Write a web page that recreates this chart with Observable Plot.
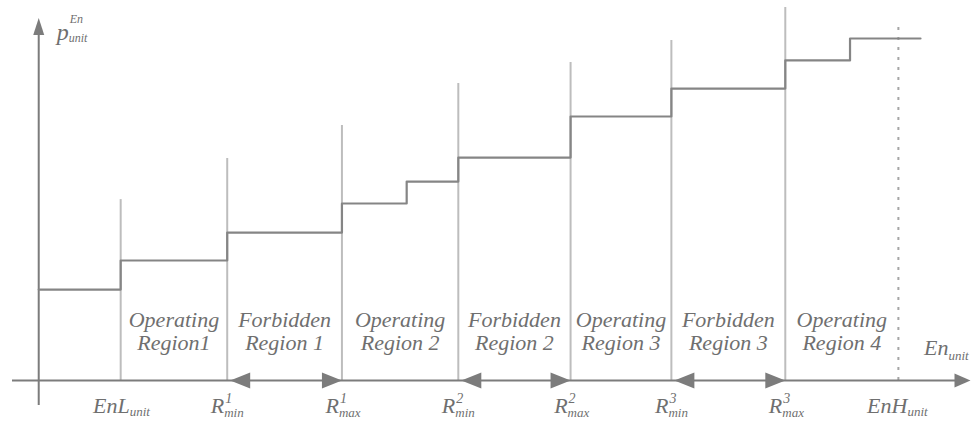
<!DOCTYPE html>
<html>
<head>
<meta charset="utf-8">
<script src="https://cdn.jsdelivr.net/npm/d3@7"></script>
<script src="https://cdn.jsdelivr.net/npm/@observablehq/plot@0.6"></script>
<style>
  html, body { margin: 0; padding: 0; background: #fff; }
  #chart svg { display: block; }
</style>
</head>
<body>
<div id="chart"></div>
<script>
// Region boundaries on the En axis: EnL, R1min, R1max, R2min, R2max, R3min, R3max, EnH
const boundX = [10, 23, 37, 51.2, 64.9, 77.2, 91.1, 104.9];
const boundTop = [60.3, 74, 85, 99, 106, 113.3, 124.3, 118.3];
const boundDashed = [false, false, false, false, false, false, false, true];
// Step curve of p_unit^En
const stepX = [0, 10, 23, 37, 44.9, 51.2, 64.9, 77.2, 91.1, 99, 107.6];
const stepY = [30.3, 40, 49.3, 59, 66.3, 74.3, 88, 97.3, 106.7, 114, 114];
// Region labels
const regionLabels = ["Operating\nRegion1", "Forbidden\nRegion 1", "Operating\nRegion 2", "Forbidden\nRegion 2", "Operating\nRegion 3", "Forbidden\nRegion 3", "Operating\nRegion 4"];
// Tick labels
const tickBase = ["EnL", "R", "R", "R", "R", "R", "R", "EnH"];
const tickSub = ["unit", "min", "max", "min", "max", "min", "max", "unit"];
const tickSup = ["", "1", "1", "2", "2", "3", "3", ""];
// Forbidden region arrows: from Rmin to Rmax
const forbidMin = [23, 51.2, 77.2];
const forbidMax = [37, 64.9, 91.1];
// Axis extents
const xAxisExtent = [-3.2, 113.7];
const yAxisExtent = [-8.3, 120.8];

const axisColor = "#7c7c7c";
const lineColor = "#858585";
const guideColor = "#bdbdbd";
const textColor = "#6f6f6f";
const font = "Liberation Serif";

// arrowhead symbol: tip at origin, pointing right
function arrowSymbol(L, h) {
  return { draw(ctx) { ctx.moveTo(0, 0); ctx.lineTo(-L, -h); ctx.lineTo(-L, h); ctx.closePath(); } };
}
const headForbid = arrowSymbol(20, 8);
const headAxisX = arrowSymbol(16, 7);
const headAxisY = arrowSymbol(17, 5.5);

const bounds = boundX.map((x, i) => ({x, top: boundTop[i], dashed: boundDashed[i]}));
const steps = stepX.map((x, i) => ({x, y: stepY[i]}));
const regions = regionLabels.map((t, i) => ({x: (boundX[i] + boundX[i + 1]) / 2, text: t}));
const ticks = boundX.map((x, i) => ({x, base: tickBase[i], sub: tickSub[i], sup: tickSup[i]}));
const enTicks = ticks.filter(d => d.base !== "R");
const rTicks = ticks.filter(d => d.base === "R");

const labelY = 16.5;    // data units above the axis (center of the two-line labels)
const tickY = -8.4;     // data units below the axis

const textCommon = {fontFamily: font, fontStyle: "italic", fill: textColor};

const chart = Plot.plot({
  width: 972,
  height: 421,
  margin: 0,
  style: {fontFamily: font, background: "white"},
  x: {domain: [-3.2, 113.7], range: [12, 970], axis: null},
  y: {domain: [0, 380 / 3], range: [380, 0], axis: null},
  marks: [
    // region guides
    Plot.ruleX(bounds.filter(d => !d.dashed), {x: "x", y1: 0, y2: "top", stroke: guideColor, strokeWidth: 2}),
    Plot.ruleX(bounds.filter(d => d.dashed), {x: "x", y1: 0, y2: "top", stroke: "#a5a5a5", strokeWidth: 2, strokeDasharray: "3,7"}),
    // axes
    Plot.ruleY([0], {x1: xAxisExtent[0], x2: xAxisExtent[1] - 1.5, stroke: axisColor, strokeWidth: 2}),
    Plot.ruleX([0], {y1: yAxisExtent[0], y2: yAxisExtent[1] - 4, stroke: axisColor, strokeWidth: 2}),
    Plot.dot([{x: xAxisExtent[1], y: 0}], {x: "x", y: "y", symbol: headAxisX, r: 1, fill: axisColor, stroke: "none"}),
    Plot.dot([{x: 0, y: yAxisExtent[1]}], {x: "x", y: "y", symbol: headAxisY, r: 1, fill: axisColor, stroke: "none", rotate: -90}),
    // forbidden arrows
    Plot.dot(forbidMin.map(x => ({x})), {x: "x", y: 0, symbol: headForbid, r: 1, fill: axisColor, stroke: "none", rotate: 180, dx: 3}),
    Plot.dot(forbidMax.map(x => ({x})), {x: "x", y: 0, symbol: headForbid, r: 1, fill: axisColor, stroke: "none"}),
    // step curve
    Plot.line(steps, {x: "x", y: "y", curve: "step-after", stroke: lineColor, strokeWidth: 2.2}),
    // region labels
    Plot.text(regions, {x: "x", y: labelY, text: "text", fontSize: 22, lineHeight: 1.08, textAnchor: "middle", ...textCommon}),
    // tick labels: En...
    Plot.text(enTicks, {x: "x", y: tickY, text: "base", fontSize: 22, textAnchor: "end", dx: 9, ...textCommon}),
    Plot.text(enTicks, {x: "x", y: tickY, text: "sub", fontSize: 13, textAnchor: "start", dx: 9, dy: 6, ...textCommon}),
    // tick labels: R
    Plot.text(rTicks, {x: "x", y: tickY, text: "base", fontSize: 22, textAnchor: "end", dx: -3, ...textCommon}),
    Plot.text(rTicks, {x: "x", y: tickY, text: "sub", fontSize: 13, textAnchor: "start", dx: -3, dy: 7, ...textCommon}),
    Plot.text(rTicks, {x: "x", y: tickY, text: "sup", fontSize: 14, textAnchor: "start", dx: -2, dy: -7, ...textCommon}),
    // axis titles
    Plot.text([{x: 0, y: yAxisExtent[1]}], {x: "x", y: "y", text: () => "p", fontSize: 24, textAnchor: "start", dx: 18, dy: 14, ...textCommon}),
    Plot.text([{x: 0, y: yAxisExtent[1]}], {x: "x", y: "y", text: () => "En", fontSize: 12, textAnchor: "start", dx: 31, dy: 1, ...textCommon}),
    Plot.text([{x: 0, y: yAxisExtent[1]}], {x: "x", y: "y", text: () => "unit", fontSize: 12, textAnchor: "start", dx: 30, dy: 20, ...textCommon}),
    Plot.text([{x: xAxisExtent[1], y: 0}], {x: "x", y: "y", text: () => "En", fontSize: 22, textAnchor: "end", dx: -22, dy: -33, ...textCommon}),
    Plot.text([{x: xAxisExtent[1], y: 0}], {x: "x", y: "y", text: () => "unit", fontSize: 13, textAnchor: "start", dx: -22, dy: -25, ...textCommon})
  ]
});
// make sure every text element carries the serif italic face directly
d3.select(chart).selectAll("text, tspan")
  .attr("font-family", font)
  .style("font-family", "'Liberation Serif', serif")
  .style("font-style", "italic");
document.getElementById("chart").appendChild(chart);
</script>
</body>
</html>
